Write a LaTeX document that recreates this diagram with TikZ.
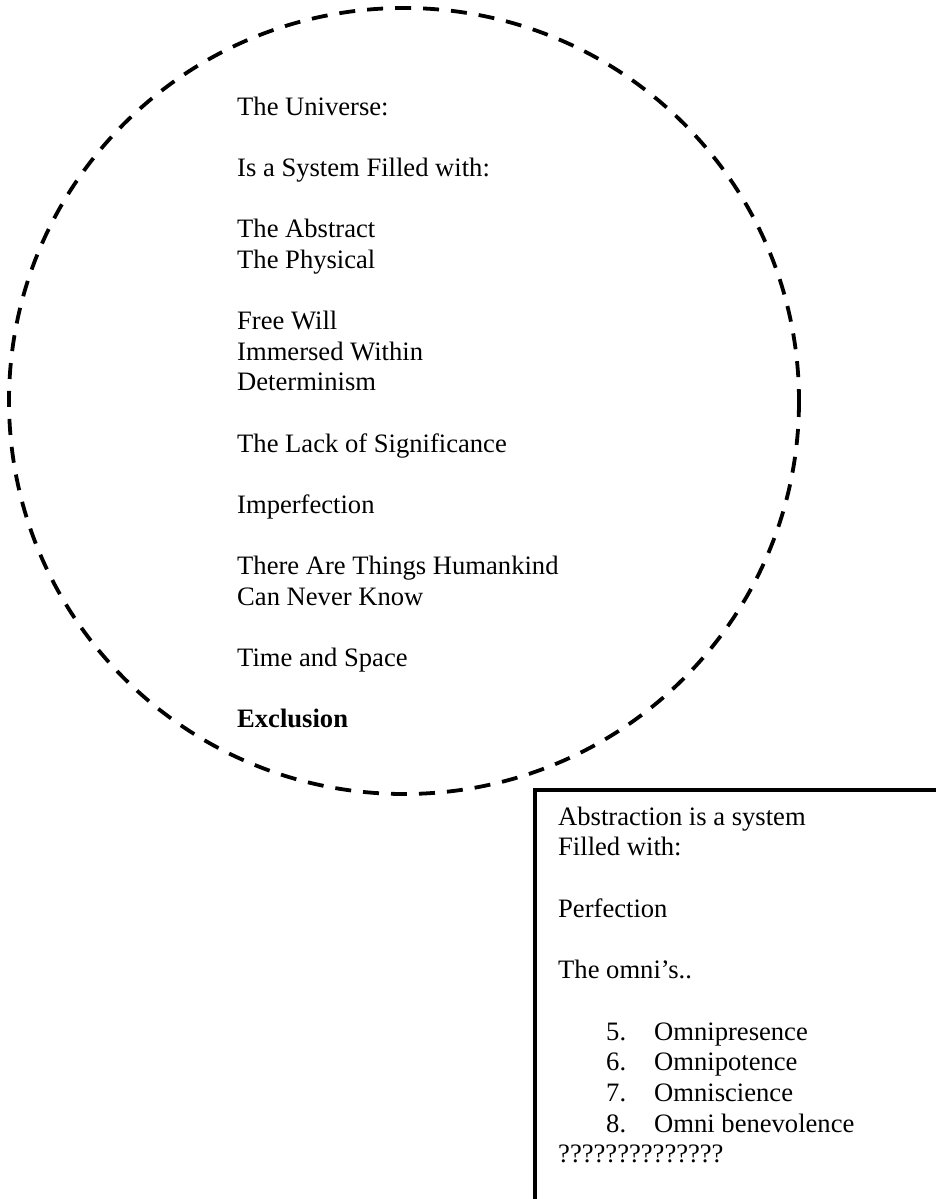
\documentclass[tikz,border=0pt]{standalone}
\usepackage{fontspec}
\setmainfont{Liberation Serif}
\begin{document}
\begin{tikzpicture}[x=1pt,y=-1pt,
  txt/.style={anchor=base west,inner sep=0pt,font=\fontsize{26.6}{30.6}\selectfont},
  ring/.style={draw=black,line width=3.8pt,dash pattern=on 16pt off 12pt},
  frame/.style={draw=black,line width=3.8pt}]
\useasboundingbox (0,0) rectangle (935,1199);
% circle
\draw[ring] (404,401) ellipse [x radius=395, y radius=393];
% box (open to the right and bottom edges)
\draw[frame] (535,1202) -- (535,790) -- (938,790);
% circle text
\node[txt] (u1) at (237,115) {The Universe:};
\node[txt] (u2) at (237,176) {Is a System Filled with:};
\node[txt] (u3) at (237,237) {The Abstract};
\node[txt] (u4) at (237,268) {The Physical};
\node[txt] (u5) at (237,329) {Free Will};
\node[txt] (u6) at (237,360) {Immersed Within};
\node[txt] (u7) at (237,390) {Determinism};
\node[txt] (u8) at (237,452) {The Lack of Significance};
\node[txt] (u9) at (237,513) {Imperfection};
\node[txt] (u10) at (237,574) {There Are Things Humankind};
\node[txt] (u11) at (237,605) {Can Never Know};
\node[txt] (u12) at (237,666) {Time and Space};
\node[txt,font=\fontsize{26.6}{30.6}\selectfont\bfseries] (u13) at (237,727) {Exclusion};
% box text
\node[txt] (b1) at (558,825) {Abstraction is a system};
\node[txt] (b2) at (558,855) {Filled with:};
\node[txt] (b3) at (558,917) {Perfection};
\node[txt] (b4) at (558,978) {The omni’s..};
\node[txt] (n5) at (606,1040) {5.};
\node[txt] (i5) at (654,1040) {Omnipresence};
\node[txt] (n6) at (606,1070) {6.};
\node[txt] (i6) at (654,1070) {Omnipotence};
\node[txt] (n7) at (606,1101) {7.};
\node[txt] (i7) at (654,1101) {Omniscience};
\node[txt] (n8) at (606,1132) {8.};
\node[txt] (i8) at (654,1132) {Omni benevolence};
\node[txt] (b5) at (558,1162) {??????????????};
\end{tikzpicture}
\end{document}
